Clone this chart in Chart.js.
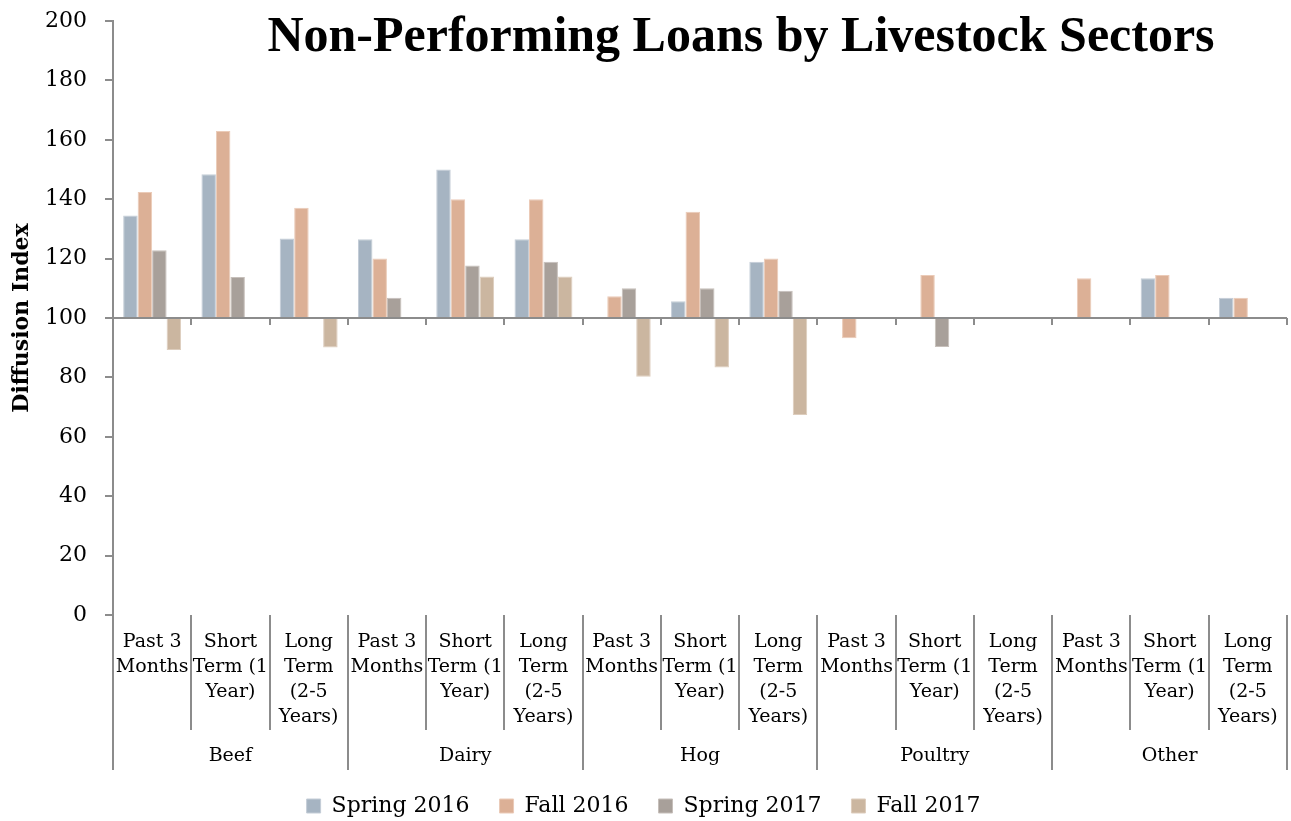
<!DOCTYPE html>
<html>
<head>
<meta charset="utf-8">
<script src="https://cdn.jsdelivr.net/npm/chart.js@4.4.0/dist/chart.umd.min.js"></script>
<style>
	html, body { margin: 0; padding: 0; background: #fff; overflow: hidden; }
	#wrap { width: 1291px; height: 821px; overflow: hidden; }
</style>
</head>
<body>
<div id="wrap"><canvas id="myChart" width="1291" height="827"></canvas></div>
<script>
const sectors = ["Beef", "Dairy", "Hog", "Poultry", "Other"];
const horizons = [["Past 3", "Months"], ["Short", "Term (1", "Year)"], ["Long", "Term", "(2-5", "Years)"]];
const seriesNames = ["Spring 2016", "Fall 2016", "Spring 2017", "Fall 2017"];
const seriesColors = ["#a6b4c2", "#dcb096", "#a8a09a", "#cbb6a0"];
const seriesEdges = ["#c4cdd7", "#ebcbb8", "#c6bfba", "#ddcdbd"];

// one value per (sector, horizon), null = no bar
const spring2016 = [134.5, 148.4, 126.8, 126.5, 150, 126.5, null, 105.6, 118.9, null, null, null, null, 113.4, 106.8];
const fall2016 = [142.4, 163, 137.1, 120, 140, 140, 107.3, 135.8, 120, 93.2, 114.5, null, 113.4, 114.5, 106.8];
const spring2017 = [122.8, 113.8, null, 106.8, 117.7, 118.9, 110, 110, 109.2, null, 90.2, null, null, null, null];
const fall2017 = [89.2, null, 90.1, null, 114, 114, 80.2, 83.3, 67.3, null, null, null, null, null, null];

const yMin = 0;
const yMax = 200;
const yStep = 20;
const baseValue = 100;

const labels = [];
sectors.forEach(() => horizons.forEach((h) => labels.push(h)));

const axisGrey = "#8c8c8c";
const serif = "'DejaVu Serif', serif";

const groupPlugin = {
	id: "groups",
	afterDatasetsDraw(chart) {
		const { ctx, chartArea, scales } = chart;
		const x = scales.x;
		const y = scales.y;
		const n = labels.length;
		const step = (chartArea.right - chartArea.left) / n;
		const y100 = y.getPixelForValue(baseValue);
		ctx.save();
		ctx.strokeStyle = axisGrey;
		ctx.lineWidth = 2;
		// axis at 100
		ctx.beginPath();
		ctx.moveTo(chartArea.left, y100);
		ctx.lineTo(chartArea.right, y100);
		ctx.stroke();
		for (let i = 0; i <= n; i++) {
			const px = Math.round(chartArea.left + i * step);
			ctx.beginPath();
			ctx.moveTo(px, y100);
			ctx.lineTo(px, y100 + 7);
			ctx.stroke();
			ctx.beginPath();
			ctx.moveTo(px, chartArea.bottom);
			ctx.lineTo(px, i % 3 === 0 ? 770 : 730);
			ctx.stroke();
		}
		ctx.fillStyle = "#000";
		ctx.font = "19px " + serif;
		ctx.textAlign = "center";
		ctx.textBaseline = "middle";
		sectors.forEach((s, g) => {
			const cx = (x.getPixelForValue(g * 3) + x.getPixelForValue(g * 3 + 2)) / 2;
			ctx.fillText(s, cx, 756);
		});
		ctx.restore();
	},
	afterDraw(chart) {
		const { ctx } = chart;
		ctx.save();
		ctx.fillStyle = "#000";
		ctx.font = "bold 50px 'Liberation Serif', serif";
		ctx.textAlign = "center";
		ctx.textBaseline = "middle";
		ctx.fillText("Non-Performing Loans by Livestock Sectors", 741, 38);
		ctx.restore();
	},
};

const ctx = document.getElementById("myChart");

new Chart(ctx, {
	type: "bar",
	data: {
		labels: labels,
		datasets: [spring2016, fall2016, spring2017, fall2017].map((d, i) => ({
			label: seriesNames[i],
			data: d,
			base: baseValue,
			backgroundColor: seriesColors[i],
			borderColor: seriesEdges[i],
			borderWidth: 1,
			barPercentage: 1,
			categoryPercentage: 0.74,
		})),
	},
	options: {
		responsive: false,
		animation: false,
		layout: { padding: { left: 0, top: 21, right: 4, bottom: 0 } },
		plugins: {
			tooltip: { enabled: false },
			legend: {
				position: "bottom",
				labels: {
					boxWidth: 14,
					boxHeight: 14,
					padding: 30,
					color: "#000",
					font: { family: serif, size: 22 },
				},
			},
		},
		scales: {
			x: {
				grid: { display: false, drawTicks: false },
				border: { display: false },
				ticks: {
					autoSkip: false,
					maxRotation: 0,
					padding: 15,
					color: "#000",
					font: { family: serif, size: 19, lineHeight: 25 / 19 },
				},
				afterFit: (s) => {
					s.height = 150;
					s.paddingLeft = 0;
					s.paddingRight = 0;
				},
			},
			y: {
				min: yMin,
				max: yMax,
				ticks: {
					stepSize: yStep,
					padding: 18,
					color: "#000",
					font: { family: serif, size: 22 },
				},
				grid: { drawOnChartArea: false, tickLength: 8, color: axisGrey, lineWidth: 2 },
				border: { color: axisGrey, width: 2 },
				title: {
					display: true,
					text: "Diffusion Index",
					color: "#000",
					padding: { top: 9, bottom: 0 },
					font: { family: serif, size: 22, weight: "bold" },
				},
				afterFit: (s) => {
					s.width = 113;
					s.paddingTop = 0;
					s.paddingBottom = 0;
				},
			},
		},
	},
	plugins: [groupPlugin],
});
</script>
</body>
</html>
